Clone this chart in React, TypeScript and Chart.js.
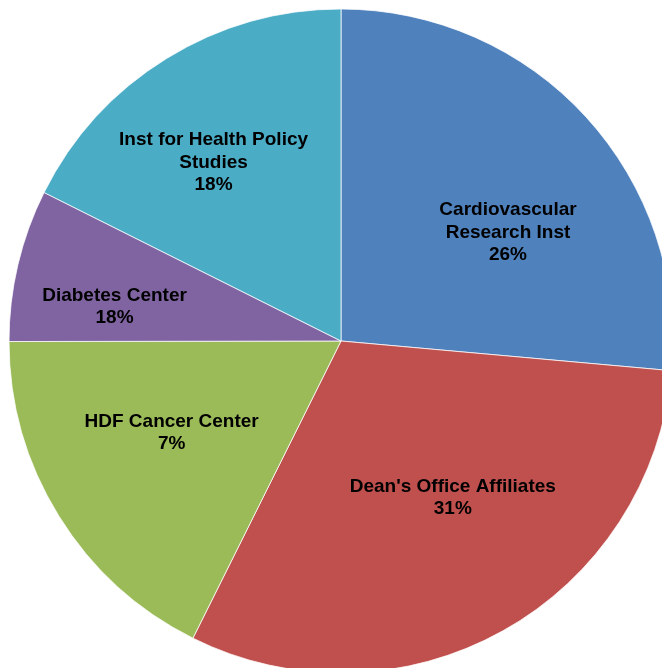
import React, { useEffect, useRef } from "react";
import { Chart, registerables } from "chart.js";

Chart.register(...registerables);

const categories = [
  ["Cardiovascular", "Research Inst"],
  ["Dean's Office Affiliates"],
  ["HDF Cancer Center"],
  ["Diabetes Center"],
  ["Inst for Health Policy", "Studies"],
];
const values = [26.4, 30.9, 17.6, 7.4, 17.6];
const shownPercents = ["26%", "31%", "7%", "18%", "18%"];
const colors = ["#4F81BD", "#C0504D", "#9BBB59", "#8064A2", "#4BACC6"];
// label placement: radial fraction and angular offset (degrees) from slice mid-angle
const labelRadius = [0.6, 0.58, 0.58, 0.69, 0.66];
const labelAngleOffset = [9.4, -6.3, 3.4, -4.6, -3.85];

const labelPlugin = {
  id: "sliceLabels",
  afterDatasetsDraw(chart: any) {
    const ctx = chart.ctx;
    const meta = chart.getDatasetMeta(0);
    ctx.save();
    ctx.font = "bold 19px 'Liberation Sans', Arial, sans-serif";
    ctx.fillStyle = "#000";
    ctx.textAlign = "center";
    ctx.textBaseline = "middle";
    const lineH = 22.5;
    meta.data.forEach((arc: any, i: number) => {
      const { x, y, startAngle, endAngle, outerRadius } = arc.getProps(
        ["x", "y", "startAngle", "endAngle", "outerRadius"],
        true
      );
      const mid = (startAngle + endAngle) / 2 + (labelAngleOffset[i] * Math.PI) / 180;
      const r = outerRadius * labelRadius[i];
      const cx = x + Math.cos(mid) * r;
      const cy = y + Math.sin(mid) * r;
      const lines = [...categories[i], shownPercents[i]];
      const top = cy - ((lines.length - 1) * lineH) / 2;
      lines.forEach((t, j) => ctx.fillText(t, cx, top + j * lineH));
    });
    ctx.restore();
  },
};

export default function App() {
  const ref = useRef<HTMLCanvasElement>(null);
  useEffect(() => {
    if (!ref.current) return;
    const chart = new Chart(ref.current, {
      type: "pie",
      data: {
        labels: categories.map((c) => c.join(" ")),
        datasets: [
          {
            data: values,
            backgroundColor: colors,
            borderColor: "rgba(255,255,255,0.75)",
            borderWidth: 1,
          },
        ],
      },
      options: {
        responsive: false,
        animation: false,
        radius: 332,
        layout: { padding: 0 },
        plugins: {
          legend: { display: false },
          tooltip: { enabled: false },
        },
      },
      plugins: [labelPlugin],
    });
    return () => chart.destroy();
  }, []);
  return (
    <div
      style={{
        position: "fixed",
        left: 0,
        top: 0,
        width: 662,
        height: 668,
        overflow: "hidden",
        background: "#fff",
      }}
    >
      <canvas ref={ref} width={682} height={682} style={{ width: 682, height: 682, display: "block" }} />
    </div>
  );
}
